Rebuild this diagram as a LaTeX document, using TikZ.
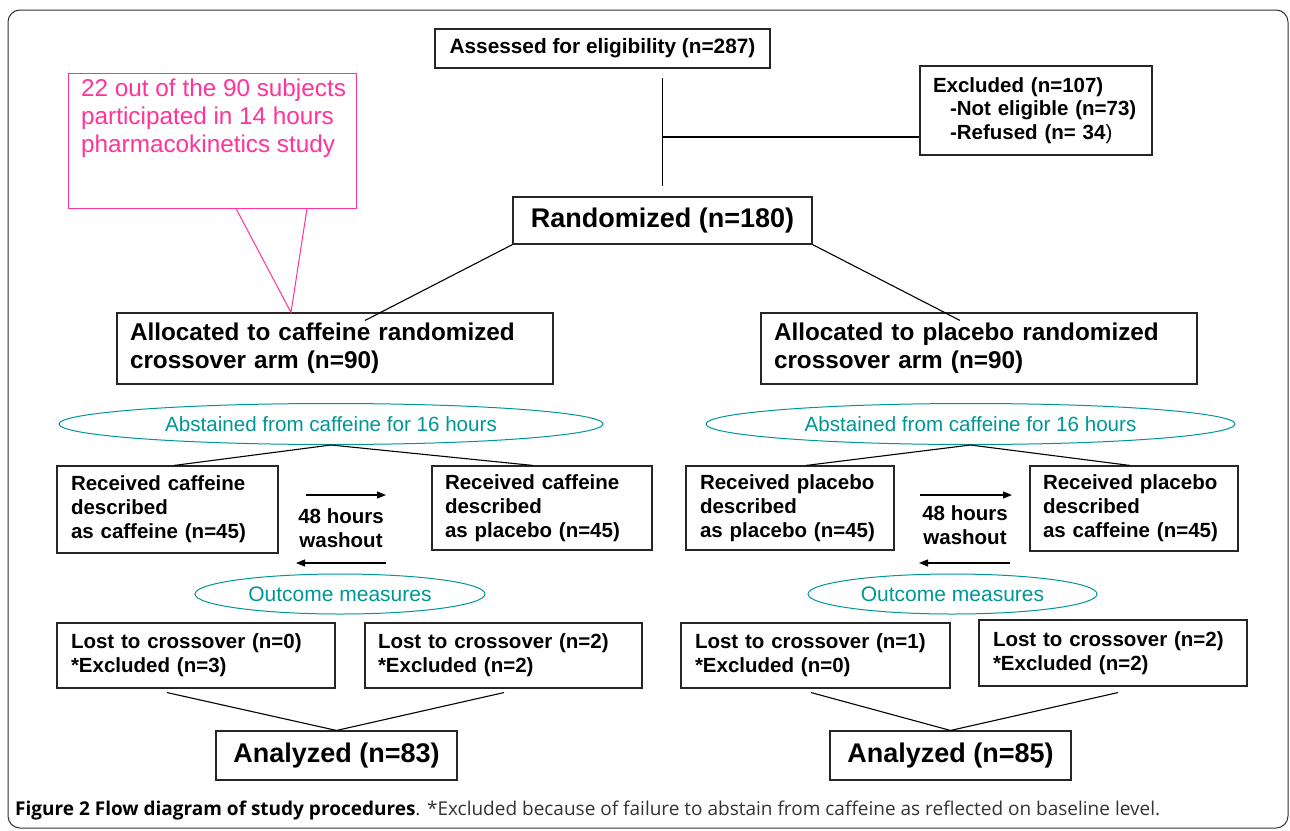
\documentclass[tikz,border=0pt]{standalone}
\usepackage{fontspec}
\setmainfont{Liberation Sans}
\newfontfamily\capfont{Open Sans}
\usetikzlibrary{shapes.geometric,arrows.meta}
\definecolor{pinkc}{RGB}{255,51,153}
\definecolor{tealc}{RGB}{0,150,150}
\begin{document}
\begin{tikzpicture}[x=1pt,y=-1pt,
  box/.style={draw=black!85, line width=1.1pt, inner sep=0pt, align=left, font=\bfseries},
  conn/.style={draw=black, line width=1.1pt},
  ell/.style={draw=tealc, ellipse, line width=1pt, inner sep=0pt, text=tealc},
  arr/.style={conn, -{Triangle[length=9pt,width=7pt]}},
  fs17/.style={font=\bfseries\fontsize{20.5}{24}\selectfont},
]
\useasboundingbox (0,0) rectangle (1290,830);
\draw[rounded corners=12, line width=1pt, black!80] (8,10) rectangle (1288,828);

% top
\node[box, minimum width=335, minimum height=39, align=center, font=\bfseries\fontsize{20.8}{24}\selectfont] (assess) at (602.5,48.5) {Assessed for eligibility (n=287)};
\node[box, minimum width=232, minimum height=89, text width=206, font=\bfseries\fontsize{20.5}{23.5}\selectfont] (excl) at (1036,110.5)
  {Excluded (n=107)\\\hspace*{17pt}-Not eligible (n=73)\\\hspace*{17pt}-Refused (n= 34{\mdseries)}};
\node[box, minimum width=299, minimum height=47, align=center, font=\bfseries\fontsize{27}{30}\selectfont] (rand) at (662.5,220.5) {Randomized (n=180)};
\coordinate (vtop) at (662.5,78);
\draw[conn] (vtop) -- ([yshift=10]rand.north);
\draw[conn] (vtop |- 0,137) -- ([yshift=-26.5]excl.west);

% callout
\node[draw=pinkc, line width=1pt, minimum width=288, minimum height=135, inner sep=0pt] (callout) at (212,140.5) {};
\node[anchor=west, inner sep=0pt, align=left, text=pinkc, font=\fontsize{24.3}{28}\selectfont] (calltext) at (81,118)
  {22 out of the 90 subjects\\participated in 14 hours\\pharmacokinetics study};

% arms
\node[box, minimum width=436, minimum height=71, text width=410, font=\bfseries\fontsize{24.3}{28}\selectfont] (caf) at (335,348.5)
  {Allocated to caffeine randomized\\crossover arm (n=90)};
\node[box, minimum width=436, minimum height=71, text width=410, font=\bfseries\fontsize{24.3}{28}\selectfont] (plc) at (979,348.5)
  {Allocated to placebo randomized\\crossover arm (n=90)};
\draw[conn] (rand.south west) -- ([xshift=30,yshift=-8]caf.north);
\draw[conn] (rand.south east) -- ([xshift=-19,yshift=-8]plc.north);
\draw[pinkc, line width=1pt] ([xshift=24]callout.south) -- ([xshift=-44]caf.north) -- ([xshift=95]callout.south);

% abstained ellipses
\node[ell, minimum width=544, minimum height=41, font=\fontsize{20.6}{24}\selectfont] (abstL) at (331,424) {Abstained from caffeine for 16 hours};
\node[ell, minimum width=529, minimum height=41, font=\fontsize{20.6}{24}\selectfont] (abstR) at (970.5,424) {Abstained from caffeine for 16 hours};

% received boxes
\node[box, fs17, minimum width=221, minimum height=87, text width=193] (L1) at (167.5,509.5) {Received caffeine\\described\\as caffeine (n=45)};
\node[box, fs17, minimum width=220, minimum height=84, text width=194] (L2) at (542,508) {Received caffeine\\described\\as placebo (n=45)};
\node[box, fs17, minimum width=208, minimum height=84, text width=180] (R1) at (790,508) {Received placebo\\described\\as placebo (n=45)};
\node[box, fs17, minimum width=208, minimum height=85, text width=182] (R2) at (1134,508.5) {Received placebo\\described\\as caffeine (n=45)};
\draw[conn] ([xshift=6.5]L1.north) -- (abstL.south) -- ([xshift=-9]L2.north);
\draw[conn] ([xshift=16]R1.north) -- (abstR.south) -- ([xshift=-4]R2.north);

\node[fs17, align=center, inner sep=0pt] (washL) at (341,528) {48 hours\\washout};
\node[fs17, align=center, inner sep=0pt] (washR) at (965,525) {48 hours\\washout};
\coordinate (aL1) at (306,495); \coordinate (aL2) at (386,495);
\coordinate (aL3) at (386,563); \coordinate (aL4) at (296,563);
\coordinate (aR1) at (920,495); \coordinate (aR2) at (1012,495);
\coordinate (aR3) at (1010,563); \coordinate (aR4) at (919,563);
\draw[arr] (aL1) -- (aL2);
\draw[arr] (aL3) -- (aL4);
\draw[arr] (aR1) -- (aR2);
\draw[arr] (aR3) -- (aR4);

% outcome ellipses
\node[ell, minimum width=290, minimum height=40, font=\fontsize{21}{24}\selectfont] (outL) at (340,594) {Outcome measures};
\node[ell, minimum width=289, minimum height=40, font=\fontsize{21}{24}\selectfont] (outR) at (952.5,594) {Outcome measures};

% lost boxes
\node[box, fs17, minimum width=278, minimum height=65, text width=250] (B1) at (196,655.5) {Lost to crossover (n=0)\\{}*Excluded (n=3)};
\node[box, fs17, minimum width=277, minimum height=65, text width=251] (B2) at (503.5,655.5) {Lost to crossover (n=2)\\{}*Excluded (n=2)};
\node[box, fs17, minimum width=269, minimum height=65, text width=241] (B3) at (815.5,655.5) {Lost to crossover (n=1)\\{}*Excluded (n=0)};
\node[box, fs17, minimum width=268, minimum height=66, text width=240] (B4) at (1113,653) {Lost to crossover (n=2)\\{}*Excluded (n=2)};

\node[box, minimum width=241, minimum height=49, align=center, font=\bfseries\fontsize{27}{30}\selectfont] (anaL) at (336.5,755.5) {Analyzed (n=83)};
\node[box, minimum width=241, minimum height=49, align=center, font=\bfseries\fontsize{27}{30}\selectfont] (anaR) at (950.5,755.5) {Analyzed (n=85)};
\draw[conn] ([xshift=-29,yshift=-4]B1.south) -- (anaL.north) -- ([xshift=0.5,yshift=-4]B2.south);
\draw[conn] ([xshift=-4.5,yshift=-4]B3.south) -- (anaR.north) -- ([xshift=5,yshift=-6]B4.south);

% caption
\node[anchor=base west, inner sep=0pt, font=\capfont\fontsize{19}{22}\selectfont] (cap) at (15,815)
  {\textbf{Figure 2 Flow diagram of study procedures}{\color{black!80}. *Excluded because of failure to abstain from caffeine as reflected on baseline level.}};
\end{tikzpicture}
\end{document}
